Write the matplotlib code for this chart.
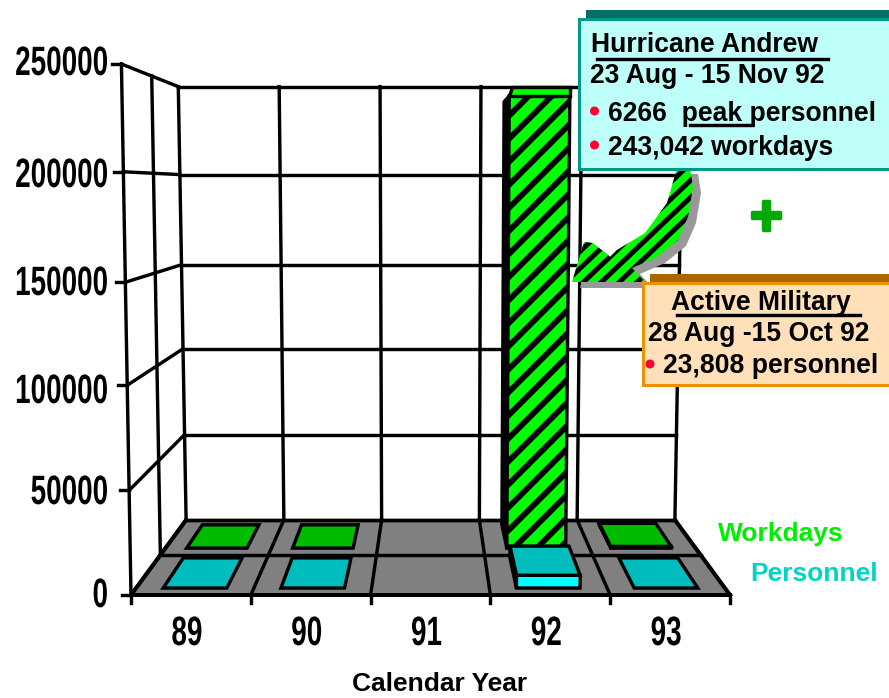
import numpy as np
import matplotlib
matplotlib.use('Agg')
import matplotlib.pyplot as plt
import matplotlib.patheffects as pe
from matplotlib.patches import Polygon, Rectangle, Circle
from matplotlib.transforms import Affine2D

years = ['89', '90', '91', '92', '93']
workdays = [0, 0, None, 243042, 900]
personnel = [0, 0, None, 6266, 0]
y_ticks = [0, 50000, 100000, 150000, 200000, 250000]
y_tick_labels = ['0', '50000', '100000', '150000', '200000', '250000']
tick_height = [0, 0.197, 0.395, 0.589, 0.797, 1.0]

# perspective of the 3d box, in pixels
VX, VY = 430.5, 187
SLOT = 119.8
HALF = 299.5
FLOOR = 408
WALL = 531
K = 0.2255
LEAN = 0.032
MID_DEPTH = 0.482

BLACK_W = 3.4 * 0.72
HEAVY_W = 4.0 * 0.72
NARROW = 0.68

plt.rcParams['font.family'] = ['Liberation Sans', 'DejaVu Sans']

fig = plt.figure(figsize=(8.89, 6.98), dpi=100)
ax = fig.add_axes([0, 0, 1, 1])
ax.set_xlim(0, 889)
ax.set_ylim(698, 0)
ax.axis('off')


class Squeeze(pe.AbstractPathEffect):
    # narrow the glyphs sideways, there is no condensed bold face to use
    def __init__(self, sx):
        super().__init__()
        self.sx = sx

    def draw_path(self, renderer, gc, tpath, affine, rgbFace=None):
        renderer.draw_path(gc, tpath, Affine2D().scale(self.sx, 1) + affine, rgbFace)


def narrow_text(x, y, s, anchor):
    t = ax.text(x, y, s, ha='left', va='center_baseline', fontsize=29.5, fontweight='bold',
                color='black', zorder=6, path_effects=[Squeeze(NARROW)])
    w = t.get_window_extent(fig.canvas.get_renderer()).width * NARROW
    t.set_x(x - w if anchor == 'right' else x - w / 2)
    return t


def project(cat, depth, value=0, rise=1.0):
    s = 1 / (1 + K * depth)
    h = np.interp(value, y_ticks, tick_height) * rise
    x = VX + (cat * SLOT - HALF) * s * (1 + LEAN * h)
    y = VY + FLOOR * s - h * WALL * s
    return x, y


def line(p, q, lw=BLACK_W, z=2, color='black'):
    ax.plot([p[0], q[0]], [p[1], q[1]], color=color, lw=lw, zorder=z,
            solid_capstyle='projecting')


def stripes(patch, period, slope, lw, z):
    # black diagonal bands clipped to the shape
    x0, y0, x1, y1 = patch.get_extents().transformed(ax.transData.inverted()).extents
    lo, hi = sorted([y0, y1])
    c = lo + slope * x0 - 300
    while c < hi + slope * x1 + 300:
        l, = ax.plot([x0, x1], [c - slope * x0, c - slope * x1], color='black',
                     lw=lw, zorder=z, solid_capstyle='butt')
        l.set_clip_path(patch)
        c += period


# floor
floor = Polygon([project(0, 0), project(5, 0), project(5, 1), project(0, 1)],
                facecolor='#808080', edgecolor='none', zorder=1)
ax.add_patch(floor)
line(project(0, 0), project(5, 0), lw=HEAVY_W)
line(project(0, 1), project(5, 1))
line(project(0, MID_DEPTH), project(5, MID_DEPTH))
line(project(0, 0), project(0, 1), lw=HEAVY_W)
line(project(5, 0), project(5, 1), lw=HEAVY_W)

# back wall and left wall
for v in y_ticks:
    line(project(0, 1, v), project(5, 1, v))
    line(project(0, 0, v), project(0, 1, v))
    fx, fy = project(0, 0, v)
    line((fx - 9, fy), (fx, fy))
for c in range(6):
    line(project(c, 1), project(c, 1, 250000))
    line(project(c, 0), project(c, 1))
    fx, fy = project(c, 0)
    line((fx, fy), (fx, fy + 8))
line(project(0, 0), project(0, 0, 250000))
line(project(0, MID_DEPTH), project(0, MID_DEPTH, 250000))


def draw_bar(i, value, a, b, z0, z1, top_col, side_col, hatched, z):
    if value is None:
        return
    rise = 0.99
    fl, fr = project(i + a, z0), project(i + b, z0)
    bl, br = project(i + a, z1), project(i + b, z1)
    tfl, tfr = project(i + a, z0, value, rise), project(i + b, z0, value, rise)
    tbl, tbr = project(i + a, z1, value, rise), project(i + b, z1, value, rise)
    if value == 0:
        ax.add_patch(Polygon([fl, fr, br, bl], facecolor=top_col, edgecolor='black',
                             lw=BLACK_W, zorder=z, joinstyle='miter'))
        return
    left_col = 'black' if hatched else side_col
    ax.add_patch(Polygon([fl, bl, tbl, tfl], facecolor=left_col, edgecolor='black',
                         lw=BLACK_W, zorder=z))
    front = Polygon([fl, fr, tfr, tfl], facecolor=side_col, edgecolor='black',
                    lw=BLACK_W, zorder=z + 0.2)
    ax.add_patch(front)
    if hatched:
        stripes(front, 23, 1.0, 4.2, z + 0.3)
    if tbl[1] > tfl[1]:
        # top of the tall column sits above the eye line
        tbl = (tfl[0] + 3, tfl[1] - 9)
        tbr = (tfr[0], tfr[1] - 9)
        ax.add_patch(Polygon([tfl, tfr, tbr, tbl], facecolor=side_col, edgecolor='black',
                             lw=BLACK_W, zorder=z + 0.4))
    else:
        ax.add_patch(Polygon([tfl, tfr, tbr, tbl], facecolor=top_col, edgecolor='black',
                             lw=BLACK_W, zorder=z + 0.4))


for i, v in enumerate(workdays):
    tall = bool(v and v > 1000)
    draw_bar(i, v, 0.22 if tall else 0.2, 0.775 if tall else 0.77, 0.576, 0.921, '#00BB00',
             '#00FF00' if tall else '#000000', tall, 3)
for i, v in enumerate(personnel):
    draw_bar(i, v, 0.23, 0.77, 0.077, 0.444, '#00BDBD', '#00FFFF', False, 4)

# value axis labels
label_y = [592, 489, 388, 280, 172, 60]
for lab, yy in zip(y_tick_labels, label_y):
    narrow_text(108, yy, lab, 'right')
for i, lab in enumerate(years):
    narrow_text(project(i + 0.5, 0)[0] - 4, 630, lab, 'center')
ax.text(440, 691, 'Calendar Year', ha='center', va='baseline', fontsize=19, fontweight='bold')

# legend labels
ax.text(718, 541, 'Workdays', fontsize=19, fontweight='bold', color='#00EE00', va='baseline')
ax.text(750, 581, 'Personnel', fontsize=19, fontweight='bold', color='#00D4C4', va='baseline')
ax.text(766, 213, '+', fontsize=41, fontweight='bold', color='#00AA00', ha='center',
        va='center_baseline',
        path_effects=[pe.withStroke(linewidth=2.5, foreground='#00AA00')])

# curved arrow pointing from the callout at the column
arrow_pts = [(677, 168), (690, 168), (693, 187), (688, 217), (678, 240), (657, 257),
             (632, 268), (645, 282), (572, 282), (584, 242), (593, 243), (610, 257),
             (617, 250), (645, 233), (667, 203)]
shadow = Polygon([(x + 8, y + 6) for x, y in arrow_pts], facecolor='#999999',
                 edgecolor='none', zorder=7)
ax.add_patch(shadow)
arrow = Polygon(arrow_pts, facecolor='#00FF00', edgecolor='none', zorder=7.5)
ax.add_patch(arrow)
stripes(arrow, 17, 0.95, 3.6, 7.6)

# Hurricane Andrew callout
ax.add_patch(Rectangle((586, 10), 320, 9, facecolor='#006F66', edgecolor='none', zorder=8))
ax.add_patch(Rectangle((579, 19), 320, 150, facecolor='#BFFFFA', edgecolor='#009988',
                       lw=2.2, zorder=8))
box_text = dict(fontsize=19.1, fontweight='bold', va='baseline', zorder=9, color='black')
ax.text(591, 52, 'Hurricane Andrew', **box_text)
ax.text(590, 83, '23 Aug - 15 Nov 92', **box_text)
ax.text(608, 121, '6266  peak personnel', **box_text)
ax.text(608, 155, '243,042 workdays', **box_text)
line((597, 59), (828, 59), z=9)
line((690, 125), (752, 125), z=9)
ax.add_patch(Circle((594.5, 111), 4.5, facecolor='#FF0033', edgecolor='none', zorder=9))
ax.add_patch(Circle((594.5, 145), 4.5, facecolor='#FF0033', edgecolor='none', zorder=9))

# Active Military callout
ax.add_patch(Rectangle((650, 274), 250, 9, facecolor='#AA6600', edgecolor='none', zorder=8))
ax.add_patch(Rectangle((643, 283), 260, 102, facecolor='#FFE0B8', edgecolor='#EE9000',
                       lw=2.2, zorder=8))
ax.text(671, 310, 'Active Military', **box_text)
ax.text(648, 341, '28 Aug -15 Oct 92', **box_text)
ax.text(663, 373, '23,808 personnel', **box_text)
line((677, 315), (860, 315), z=9)
ax.add_patch(Circle((650, 364), 4.5, facecolor='#FF0033', edgecolor='none', zorder=9))

fig.savefig('out.png', dpi=100)
